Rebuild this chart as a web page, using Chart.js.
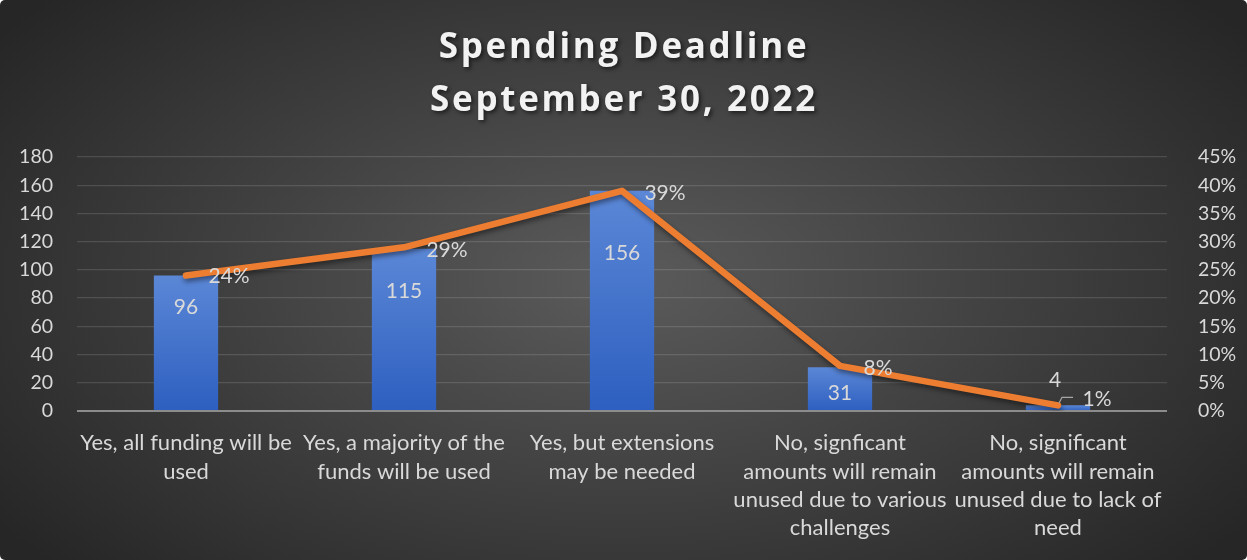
<!DOCTYPE html>
<html>
<head>
<meta charset="utf-8">
<script src="https://cdn.jsdelivr.net/npm/chart.js@4"></script>
<style>
  html, body { margin: 0; padding: 0; background: #ffffff; }
  #wrap {
    width: 1247px; height: 560px; border-radius: 5px; overflow: hidden;
    background: radial-gradient(ellipse 62% 75% at 50% 50%, #5b5b5b 0%, #434343 45%, #262626 100%);
  }
  canvas { display: block; }
</style>
</head>
<body>
<div id="wrap"><canvas id="c" width="1247" height="560"></canvas></div>
<script>
// Survey responses: will relief funds be spent by the deadline?
const categories = [
  ["Yes, all funding will be", "used"],
  ["Yes, a majority of the", "funds will be used"],
  ["Yes, but extensions", "may be needed"],
  ["No, signficant", "amounts will remain", "unused due to various", "challenges"],
  ["No, significant", "amounts will remain", "unused due to lack of", "need"]
];
const responseCounts = [96, 115, 156, 31, 4];
const responseShares = [24, 29, 39, 8, 1];   // percent of all responses
const countTicks = [0, 20, 40, 60, 80, 100, 120, 140, 160, 180];
const shareTicks = [0, 5, 10, 15, 20, 25, 30, 35, 40, 45];
const titleLines = ["Spending Deadline", "September 30, 2022"];

const FAMILY = 'Lato, "Liberation Sans", sans-serif';
const LABEL_FONT = '21px ' + FAMILY;
const LABEL_COLOR = '#d9d9d9';

// Title with a soft drop shadow
const titlePlugin = {
  id: 'shadowTitle',
  afterDraw(chart) {
    const ctx = chart.ctx;
    ctx.save();
    ctx.font = 'bold 35px "Open Sans", "Liberation Sans", sans-serif';
    ctx.letterSpacing = '2.7px';
    ctx.fillStyle = '#f2f2f2';
    ctx.textAlign = 'center';
    ctx.textBaseline = 'middle';
    ctx.shadowColor = 'rgba(0,0,0,0.6)';
    ctx.shadowBlur = 4;
    ctx.shadowOffsetX = 2;
    ctx.shadowOffsetY = 2;
    ctx.fillText(titleLines[0], 624, 48);
    ctx.fillText(titleLines[1], 624, 101);
    ctx.restore();
  }
};

// Value labels for bars and line points
const valueLabelPlugin = {
  id: 'valueLabels',
  afterDatasetsDraw(chart, args, opts) {
    const ctx = chart.ctx;
    ctx.save();
    ctx.font = LABEL_FONT;
    ctx.fillStyle = LABEL_COLOR;
    ctx.textAlign = 'center';
    ctx.textBaseline = 'middle';
    const barMeta = chart.getDatasetMeta(0);
    barMeta.data.forEach((el, i) => {
      const off = opts.barOffsets[i];
      ctx.fillText(String(responseCounts[i]), el.x + off[0], el.y + off[1]);
    });
    const lineMeta = chart.getDatasetMeta(1);
    lineMeta.data.forEach((el, i) => {
      const off = opts.lineOffsets[i];
      ctx.fillText(responseShares[i] + '%', el.x + off[0], el.y + off[1]);
      if (opts.leaders[i]) {
        ctx.strokeStyle = '#a6a6a6';
        ctx.lineWidth = 1.2;
        ctx.beginPath();
        ctx.moveTo(el.x + 1, el.y - 2);
        ctx.lineTo(el.x + 4, el.y - 8);
        ctx.lineTo(el.x + 15, el.y - 8);
        ctx.stroke();
      }
    });
    ctx.restore();
  }
};

// Orange line drawn with a faint shadow
const lineShadowPlugin = {
  id: 'lineShadow',
  beforeDatasetDraw(chart, args) {
    if (args.index === 1) {
      const ctx = chart.ctx;
      ctx.save();
      ctx.shadowColor = 'rgba(0,0,0,0.45)';
      ctx.shadowBlur = 5;
      ctx.shadowOffsetX = 1;
      ctx.shadowOffsetY = 3;
    }
  },
  afterDatasetDraw(chart, args) {
    if (args.index === 1) chart.ctx.restore();
  }
};

function barGradient(context) {
  const chart = context.chart;
  const area = chart.chartArea;
  if (!area || context.type !== 'data') return '#4472c4';
  const y = chart.scales.y;
  const top = y.getPixelForValue(context.raw);
  const bottom = y.getPixelForValue(0);
  const g = chart.ctx.createLinearGradient(0, top, 0, Math.max(bottom, top + 1));
  g.addColorStop(0, '#5b87d6');
  g.addColorStop(1, '#2d5fc0');
  return g;
}

new Chart(document.getElementById('c'), {
  data: {
    labels: categories,
    datasets: [
      {
        type: 'bar',
        data: responseCounts,
        yAxisID: 'y',
        backgroundColor: barGradient,
        borderWidth: 0,
        categoryPercentage: 1,
        barPercentage: 0.295,
        order: 2
      },
      {
        type: 'line',
        data: responseShares,
        yAxisID: 'y2',
        borderColor: '#ed7d31',
        borderWidth: 6.5,
        pointRadius: 0,
        tension: 0,
        borderCapStyle: 'round',
        borderJoinStyle: 'round',
        order: 1
      }
    ]
  },
  options: {
    responsive: false,
    animation: false,
    layout: { padding: { top: 157, left: 0, right: 0, bottom: 0 } },
    plugins: {
      legend: { display: false },
      title: { display: false },
      tooltip: { enabled: false },
      valueLabels: {
        barOffsets: [[0, 32], [0, 43], [0, 62], [0, 26], [-3, -25]],
        lineOffsets: [[43, 1], [43, 3], [43, 2], [38, 2], [39, -6]],
        leaders: [false, false, false, false, true]
      }
    },
    scales: {
      x: {
        afterFit(axis) { axis.height = 149; },
        grid: { display: false },
        border: { display: false },
        ticks: {
          color: LABEL_COLOR,
          font: { family: FAMILY, size: 22, lineHeight: 1.29 },
          maxRotation: 0, autoSkip: false, padding: 10
        }
      },
      y: {
        position: 'left',
        min: 0, max: 180,
        afterFit(axis) { axis.width = 77; },
        afterBuildTicks(axis) { axis.ticks = countTicks.map(v => ({ value: v })); },
        grid: {
          color: (c) => c.tick && c.tick.value === 0 ? '#8c8c8c' : 'rgba(255,255,255,0.13)',
          lineWidth: (c) => c.tick && c.tick.value === 0 ? 2 : 1.3,
          drawTicks: false
        },
        border: { display: false },
        ticks: {
          color: LABEL_COLOR,
          font: { family: FAMILY, size: 19.5 },
          padding: 24
        }
      },
      y2: {
        position: 'right',
        min: 0, max: 45,
        afterFit(axis) { axis.width = 80; },
        afterBuildTicks(axis) { axis.ticks = shareTicks.map(v => ({ value: v })); },
        grid: { display: false },
        border: { display: false },
        ticks: {
          color: LABEL_COLOR,
          font: { family: FAMILY, size: 19.5 },
          padding: 23,
          callback: (v) => v + '%'
        }
      }
    }
  },
  plugins: [titlePlugin, valueLabelPlugin, lineShadowPlugin]
});
</script>
</body>
</html>
